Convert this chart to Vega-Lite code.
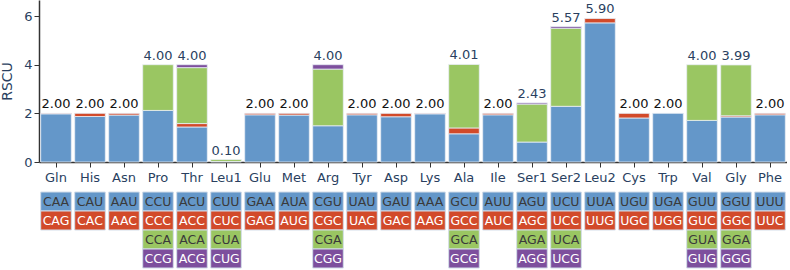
{
  "$schema": "https://vega.github.io/schema/vega-lite/v6.json",
  "padding": {"left": 0, "top": 0, "right": 0, "bottom": 0},
  "spacing": 7,
  "config": {"view": {"stroke": null}, "font": "DejaVu Sans"},
  "datasets": {
    "rscu": [
      {"aa": "Gln", "codon": "CAA", "pos": 1, "rscu": 1.98, "fold": 2},
      {"aa": "Gln", "codon": "CAG", "pos": 2, "rscu": 0.02, "fold": 2},
      {"aa": "His", "codon": "CAU", "pos": 1, "rscu": 1.87, "fold": 2},
      {"aa": "His", "codon": "CAC", "pos": 2, "rscu": 0.13, "fold": 2},
      {"aa": "Asn", "codon": "AAU", "pos": 1, "rscu": 1.93, "fold": 2},
      {"aa": "Asn", "codon": "AAC", "pos": 2, "rscu": 0.07, "fold": 2},
      {"aa": "Pro", "codon": "CCU", "pos": 1, "rscu": 2.12, "fold": 4},
      {"aa": "Pro", "codon": "CCC", "pos": 2, "rscu": 0.0, "fold": 4},
      {"aa": "Pro", "codon": "CCA", "pos": 3, "rscu": 1.88, "fold": 4},
      {"aa": "Pro", "codon": "CCG", "pos": 4, "rscu": 0.0, "fold": 4},
      {"aa": "Thr", "codon": "ACU", "pos": 1, "rscu": 1.44, "fold": 4},
      {"aa": "Thr", "codon": "ACC", "pos": 2, "rscu": 0.14, "fold": 4},
      {"aa": "Thr", "codon": "ACA", "pos": 3, "rscu": 2.30, "fold": 4},
      {"aa": "Thr", "codon": "ACG", "pos": 4, "rscu": 0.12, "fold": 4},
      {"aa": "Leu1", "codon": "CUU", "pos": 1, "rscu": 0.02, "fold": 6},
      {"aa": "Leu1", "codon": "CUC", "pos": 2, "rscu": 0.0, "fold": 6},
      {"aa": "Leu1", "codon": "CUA", "pos": 3, "rscu": 0.08, "fold": 6},
      {"aa": "Leu1", "codon": "CUG", "pos": 4, "rscu": 0.0, "fold": 6},
      {"aa": "Glu", "codon": "GAA", "pos": 1, "rscu": 1.94, "fold": 2},
      {"aa": "Glu", "codon": "GAG", "pos": 2, "rscu": 0.06, "fold": 2},
      {"aa": "Met", "codon": "AUA", "pos": 1, "rscu": 1.93, "fold": 2},
      {"aa": "Met", "codon": "AUG", "pos": 2, "rscu": 0.07, "fold": 2},
      {"aa": "Arg", "codon": "CGU", "pos": 1, "rscu": 1.49, "fold": 4},
      {"aa": "Arg", "codon": "CGC", "pos": 2, "rscu": 0.0, "fold": 4},
      {"aa": "Arg", "codon": "CGA", "pos": 3, "rscu": 2.33, "fold": 4},
      {"aa": "Arg", "codon": "CGG", "pos": 4, "rscu": 0.18, "fold": 4},
      {"aa": "Tyr", "codon": "UAU", "pos": 1, "rscu": 1.94, "fold": 2},
      {"aa": "Tyr", "codon": "UAC", "pos": 2, "rscu": 0.06, "fold": 2},
      {"aa": "Asp", "codon": "GAU", "pos": 1, "rscu": 1.86, "fold": 2},
      {"aa": "Asp", "codon": "GAC", "pos": 2, "rscu": 0.14, "fold": 2},
      {"aa": "Lys", "codon": "AAA", "pos": 1, "rscu": 1.98, "fold": 2},
      {"aa": "Lys", "codon": "AAG", "pos": 2, "rscu": 0.02, "fold": 2},
      {"aa": "Ala", "codon": "GCU", "pos": 1, "rscu": 1.16, "fold": 4},
      {"aa": "Ala", "codon": "GCC", "pos": 2, "rscu": 0.24, "fold": 4},
      {"aa": "Ala", "codon": "GCA", "pos": 3, "rscu": 2.61, "fold": 4},
      {"aa": "Ala", "codon": "GCG", "pos": 4, "rscu": 0.0, "fold": 4},
      {"aa": "Ile", "codon": "AUU", "pos": 1, "rscu": 1.94, "fold": 2},
      {"aa": "Ile", "codon": "AUC", "pos": 2, "rscu": 0.06, "fold": 2},
      {"aa": "Ser1", "codon": "AGU", "pos": 1, "rscu": 0.82, "fold": 6},
      {"aa": "Ser1", "codon": "AGC", "pos": 2, "rscu": 0.0, "fold": 6},
      {"aa": "Ser1", "codon": "AGA", "pos": 3, "rscu": 1.56, "fold": 6},
      {"aa": "Ser1", "codon": "AGG", "pos": 4, "rscu": 0.05, "fold": 6},
      {"aa": "Ser2", "codon": "UCU", "pos": 1, "rscu": 2.29, "fold": 6},
      {"aa": "Ser2", "codon": "UCC", "pos": 2, "rscu": 0.0, "fold": 6},
      {"aa": "Ser2", "codon": "UCA", "pos": 3, "rscu": 3.21, "fold": 6},
      {"aa": "Ser2", "codon": "UCG", "pos": 4, "rscu": 0.07, "fold": 6},
      {"aa": "Leu2", "codon": "UUA", "pos": 1, "rscu": 5.72, "fold": 6},
      {"aa": "Leu2", "codon": "UUG", "pos": 2, "rscu": 0.18, "fold": 6},
      {"aa": "Cys", "codon": "UGU", "pos": 1, "rscu": 1.81, "fold": 2},
      {"aa": "Cys", "codon": "UGC", "pos": 2, "rscu": 0.19, "fold": 2},
      {"aa": "Trp", "codon": "UGA", "pos": 1, "rscu": 2.0, "fold": 2},
      {"aa": "Trp", "codon": "UGG", "pos": 2, "rscu": 0.0, "fold": 2},
      {"aa": "Val", "codon": "GUU", "pos": 1, "rscu": 1.71, "fold": 4},
      {"aa": "Val", "codon": "GUC", "pos": 2, "rscu": 0.0, "fold": 4},
      {"aa": "Val", "codon": "GUA", "pos": 3, "rscu": 2.29, "fold": 4},
      {"aa": "Val", "codon": "GUG", "pos": 4, "rscu": 0.0, "fold": 4},
      {"aa": "Gly", "codon": "GGU", "pos": 1, "rscu": 1.85, "fold": 4},
      {"aa": "Gly", "codon": "GGC", "pos": 2, "rscu": 0.05, "fold": 4},
      {"aa": "Gly", "codon": "GGA", "pos": 3, "rscu": 2.09, "fold": 4},
      {"aa": "Gly", "codon": "GGG", "pos": 4, "rscu": 0.0, "fold": 4},
      {"aa": "Phe", "codon": "UUU", "pos": 1, "rscu": 1.94, "fold": 2},
      {"aa": "Phe", "codon": "UUC", "pos": 2, "rscu": 0.06, "fold": 2}
    ]
  },
  "vconcat": [
    {
      "width": 748,
      "height": 162,
      "data": {"name": "rscu"},
      "layer": [
        {
          "transform": [{"filter": "datum.rscu > 0"}],
          "mark": {"type": "bar", "stroke": "#e8eef5", "strokeWidth": 0.8},
          "encoding": {
            "x": {
              "field": "aa", "type": "nominal",
              "sort": ["Gln","His","Asn","Pro","Thr","Leu1","Glu","Met","Arg","Tyr","Asp","Lys","Ala","Ile","Ser1","Ser2","Leu2","Cys","Trp","Val","Gly","Phe"],
              "scale": {"paddingInner": 0.1, "paddingOuter": 0.05},
              "axis": {"title": null, "labelAngle": 0, "labelFontSize": 13, "labelColor": "#2a3f5f", "tickSize": 5, "labelPadding": 4, "domainColor": "#333", "tickColor": "#333", "domainWidth": 1.5}
            },
            "y": {
              "field": "rscu", "type": "quantitative", "aggregate": "sum", "stack": "zero",
              "scale": {"domain": [0, 6.66], "nice": false},
              "axis": {"title": "RSCU", "values": [0, 2, 4, 6], "grid": false, "labelFontSize": 13, "labelColor": "#2a3f5f", "titleColor": "#2a3f5f", "titleFontSize": 14, "titleFontWeight": "normal", "titlePadding": 9, "tickSize": 5, "labelPadding": 2, "domainColor": "#333", "tickColor": "#333", "domainWidth": 1.5}
            },
            "color": {
              "field": "pos", "type": "ordinal",
              "scale": {"domain": [1, 2, 3, 4], "range": ["#6497c9", "#d24a2a", "#9ac662", "#7d4f9d"]},
              "legend": null
            },
            "order": {"field": "pos", "type": "quantitative"}
          }
        },
        {
          "transform": [{"aggregate": [{"op": "sum", "field": "rscu", "as": "total"}], "groupby": ["aa", "fold"]}],
          "mark": {"type": "text", "fontSize": 13, "dy": -5, "baseline": "alphabetic"},
          "encoding": {
            "x": {"field": "aa", "type": "nominal", "sort": ["Gln","His","Asn","Pro","Thr","Leu1","Glu","Met","Arg","Tyr","Asp","Lys","Ala","Ile","Ser1","Ser2","Leu2","Cys","Trp","Val","Gly","Phe"]},
            "y": {"field": "total", "type": "quantitative"},
            "text": {"field": "total", "type": "quantitative", "format": ".2f"},
            "color": {"condition": {"test": "datum.fold == 2", "value": "#111111"}, "value": "#2a3f5f"}
          }
        }
      ]
    },
    {
      "width": 748,
      "height": 76,
      "data": {"name": "rscu"},
      "encoding": {
        "x": {
          "field": "aa", "type": "nominal",
          "sort": ["Gln","His","Asn","Pro","Thr","Leu1","Glu","Met","Arg","Tyr","Asp","Lys","Ala","Ile","Ser1","Ser2","Leu2","Cys","Trp","Val","Gly","Phe"],
          "scale": {"paddingInner": 0.1, "paddingOuter": 0.05},
          "axis": null
        },
        "y": {"field": "pos", "type": "ordinal", "scale": {"domain": [1, 2, 3, 4], "paddingInner": 0, "paddingOuter": 0}, "axis": null}
      },
      "layer": [
        {
          "mark": {"type": "rect", "stroke": "#d3dde9", "strokeWidth": 1},
          "encoding": {
            "color": {
              "field": "pos", "type": "ordinal",
              "scale": {"domain": [1, 2, 3, 4], "range": ["#6497c9", "#d24a2a", "#9ac662", "#7d4f9d"]},
              "legend": null
            }
          }
        },
        {
          "mark": {"type": "text", "fontSize": 12.5},
          "encoding": {
            "text": {"field": "codon", "type": "nominal"},
            "color": {"condition": {"test": "datum.pos == 2 || datum.pos == 4", "value": "#ffffff"}, "value": "#3a3a3a"}
          }
        }
      ]
    }
  ]
}
